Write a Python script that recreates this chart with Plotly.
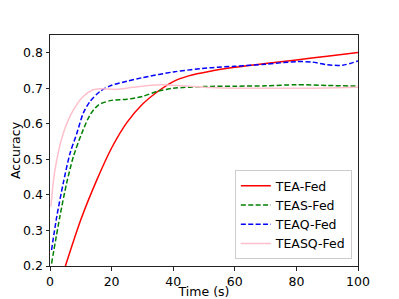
import plotly.graph_objects as go

tea_x = [5, 10, 15, 20, 25, 30, 35, 40, 45, 52, 60, 70, 80, 90, 100]
tea_y = [0.2, 0.33, 0.438, 0.532, 0.604, 0.655, 0.691, 0.719, 0.735, 0.748, 0.759, 0.77, 0.78, 0.79, 0.801]

teas_x = [0.5, 3.2, 5.4, 7.6, 10.3, 13, 15.7, 20, 25, 30, 35, 40, 50, 60, 70, 80, 90, 100]
teas_y = [0.207, 0.339, 0.433, 0.508, 0.573, 0.625, 0.653, 0.666, 0.669, 0.677, 0.692, 0.7, 0.705, 0.706, 0.707, 0.71, 0.708, 0.706]

teaq_x = [0.5, 2.2, 4.3, 6.5, 8.7, 10.8, 13, 16.2, 19.5, 25, 30, 40, 52, 60, 70, 80, 85, 90, 95, 100]
teaq_y = [0.245, 0.339, 0.433, 0.517, 0.573, 0.63, 0.663, 0.691, 0.707, 0.72, 0.73, 0.746, 0.758, 0.762, 0.768, 0.775, 0.774, 0.766, 0.765, 0.777]

teasq_x = [0.3, 1.6, 4.3, 7.6, 10.8, 14, 16.2, 21.6, 27, 35.7, 43, 52, 60, 70, 80, 90, 100]
teasq_y = [0.367, 0.47, 0.573, 0.639, 0.677, 0.696, 0.699, 0.697, 0.703, 0.71, 0.707, 0.702, 0.700, 0.700, 0.700, 0.701, 0.703]

names = ["TEA-Fed", "TEAS-Fed", "TEAQ-Fed", "TEASQ-Fed"]

fig = go.Figure()
fig.add_trace(go.Scatter(x=tea_x, y=tea_y, name=names[0], mode="lines",
                         line=dict(color="red", width=1.5, shape="spline", smoothing=0.8)))
fig.add_trace(go.Scatter(x=teas_x, y=teas_y, name=names[1], mode="lines",
                         line=dict(color="green", width=1.5, dash="5px,2.4px", shape="spline", smoothing=0.8)))
fig.add_trace(go.Scatter(x=teaq_x, y=teaq_y, name=names[2], mode="lines",
                         line=dict(color="blue", width=1.5, dash="5px,2.4px", shape="spline", smoothing=0.8)))
fig.add_trace(go.Scatter(x=teasq_x, y=teasq_y, name=names[3], mode="lines",
                         line=dict(color="pink", width=1.5, shape="spline", smoothing=0.8)))

FS = 12.5
axis_common = dict(showline=True, linecolor="#222", linewidth=1, mirror=True,
                   ticks="outside", ticklen=3.5, tickcolor="#222", showgrid=False,
                   zeroline=False, automargin=False,
                   tickfont=dict(size=FS, color="black"))
# page body has an 8px default margin; figure sized to compensate
fig.update_layout(
    width=391, height=291,
    margin=dict(l=42, r=41, t=27, b=33),
    paper_bgcolor="white", plot_bgcolor="white",
    font=dict(family="DejaVu Sans", size=FS, color="black"),
    xaxis=dict(range=[0, 100], tickvals=[0, 20, 40, 60, 80, 100],
               title=dict(text="Time (s)", standoff=1, font=dict(size=FS)), **axis_common),
    yaxis=dict(range=[0.2, 0.85], tickvals=[0.2, 0.3, 0.4, 0.5, 0.6, 0.7, 0.8],
               tickformat=".1f",
               title=dict(text="Accuracy", standoff=5, font=dict(size=FS)), **axis_common),
    legend=dict(x=0.98, y=0.03, xanchor="right", yanchor="bottom",
                bordercolor="#ccc", borderwidth=1, bgcolor="rgba(255,255,255,0.8)",
                font=dict(size=FS), tracegroupgap=0, itemwidth=30),
    showlegend=True,
)
fig.write_html("out.html")
